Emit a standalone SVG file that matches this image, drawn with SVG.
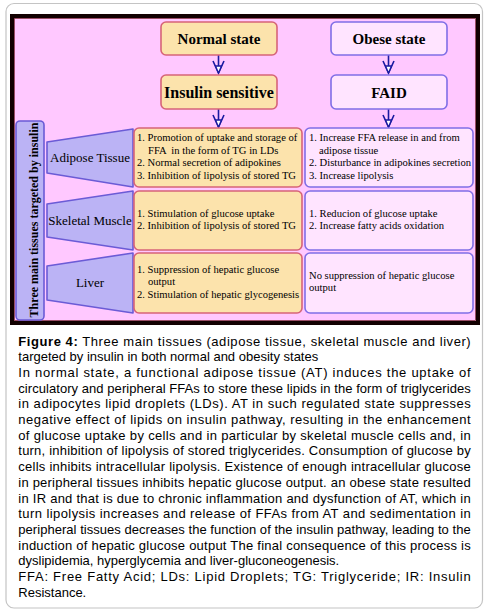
<svg xmlns="http://www.w3.org/2000/svg" xmlns:xlink="http://www.w3.org/1999/xlink" width="489" height="613" viewBox="0 0 489 613">
<style>
.nb{fill:#FCE3AC;stroke:#D66478;stroke-width:1.6}
.ob{fill:#FFE4FF;stroke:#806EE6;stroke-width:1.6}
.tz{fill:#BBB3F5;stroke:#6B5BD6;stroke-width:1.6;stroke-linejoin:round}
.ttl{font-family:"Liberation Serif","Times New Roman",serif;font-weight:bold;font-size:15px;fill:#000;text-anchor:middle}
.lbl{font-family:"Liberation Serif","Times New Roman",serif;font-size:13px;fill:#000;text-anchor:middle}
.li{font-family:"Liberation Serif","Times New Roman",serif;font-size:10.6px;fill:#000}
.cap{font-family:"Liberation Sans",Arial,sans-serif;font-size:13px;fill:#000}
.shaft{stroke:#1A1AA0;stroke-width:1.6;fill:none}
</style>
<defs>
<g id="ah">
<path d="M-5.5,-12 L0,0 L5.5,-12" fill="none" stroke="#1A1AA0" stroke-width="1.6"/>
<path d="M-3,-7 L3,-7 L0,0 Z" fill="#fff" stroke="#1A1AA0" stroke-width="1.3"/>
</g>
</defs>
<rect x="6" y="3.5" width="476.5" height="604.5" rx="8" fill="#fff" stroke="#C4C4C4" stroke-width="1.2"/>
<rect x="12" y="16" width="466" height="307" fill="#FFC8FF" stroke="#120000" stroke-width="4"/>
<rect x="14.5" y="18.5" width="461" height="302" fill="none" stroke="#803040" stroke-width="0.8"/>

<g id="connectors">
<line class="shaft" x1="218.5" y1="55" x2="218.5" y2="66"/>
<use xlink:href="#ah" x="218.5" y="73"/>
<line class="shaft" x1="388.5" y1="55" x2="388.5" y2="66"/>
<use xlink:href="#ah" x="388.5" y="73"/>
<line class="shaft" x1="218.5" y1="109" x2="218.5" y2="120"/>
<use xlink:href="#ah" x="218.5" y="127"/>
<line class="shaft" x1="388.5" y1="109" x2="388.5" y2="120"/>
<use xlink:href="#ah" x="388.5" y="127"/>
</g>

<g id="normal-state"><rect class="nb" x="161" y="22" width="116" height="33" rx="5"/><text class="ttl" x="219" y="44">Normal state</text></g>
<g id="obese-state"><rect class="ob" x="331" y="22" width="116" height="33" rx="5"/><text class="ttl" x="389" y="44">Obese state</text></g>
<g id="insulin-sensitive"><rect class="nb" x="161" y="75" width="116" height="34" rx="5"/><text class="ttl" x="219" y="98" style="font-size:16px">Insulin sensitive</text></g>
<g id="faid"><rect class="ob" x="331" y="75" width="116" height="34" rx="5"/><text class="ttl" x="389" y="98">FAID</text></g>

<g id="tissues-label"><rect x="16" y="121" width="28" height="199" rx="4" fill="#BBB3F5" stroke="#6B5BD6" stroke-width="1.6"/><text transform="translate(37.5,220) rotate(-90)" x="0" y="0" style="font-family:'Liberation Serif','Times New Roman',serif;font-weight:bold;font-size:12px;text-anchor:middle">Three main tissues targeted by insulin</text></g>

<g id="adipose-tissue"><path class="tz" d="M47,142 L133,129 L133,187 L47,173 Z"/><text class="lbl" x="90" y="162">Adipose Tissue</text></g>
<g id="skeletal-muscle"><path class="tz" d="M47,204 L133,191 L133,250 L47,237 Z"/><text class="lbl" x="90" y="225">Skeletal Muscle</text></g>
<g id="liver"><path class="tz" d="M47,266 L133,253 L133,313 L47,300 Z"/><text class="lbl" x="90" y="287">Liver</text></g>

<g id="adipose-normal"><rect class="nb" x="134" y="128" width="168" height="59" rx="5"/>
<text class="li" x="137" y="141">1. Promotion of uptake and storage of</text>
<text class="li" x="148" y="153.5" xml:space="preserve">FFA  in the form of TG in LDs</text>
<text class="li" x="137" y="166">2. Normal secretion of adipokines</text>
<text class="li" x="137" y="178.5">3. Inhibition of lipolysis of stored TG</text></g>
<g id="adipose-obese"><rect class="ob" x="305" y="128" width="168" height="59" rx="5"/>
<text class="li" x="309" y="141">1. Increase FFA release in and from</text>
<text class="li" x="319" y="153.5">adipose tissue</text>
<text class="li" x="309" y="166">2. Disturbance in adipokines secretion</text>
<text class="li" x="309" y="178.5">3. Increase lipolysis</text></g>

<g id="muscle-normal"><rect class="nb" x="134" y="191" width="168" height="59" rx="5"/>
<text class="li" x="137" y="216.5">1. Stimulation of glucose uptake</text>
<text class="li" x="137" y="229">2. Inhibition of lipolysis of stored TG</text></g>
<g id="muscle-obese"><rect class="ob" x="305" y="191" width="168" height="59" rx="5"/>
<text class="li" x="309" y="216.5">1. Reducion of glucose uptake</text>
<text class="li" x="309" y="229">2. Increase fatty acids oxidation</text></g>

<g id="liver-normal"><rect class="nb" x="134" y="253" width="168" height="60" rx="5"/>
<text class="li" x="137" y="273">1. Suppression of hepatic glucose</text>
<text class="li" x="148" y="285">output</text>
<text class="li" x="137" y="297.5">2. Stimulation of hepatic glycogenesis</text></g>
<g id="liver-obese"><rect class="ob" x="305" y="253" width="168" height="60" rx="5"/>
<text class="li" x="309" y="278.5">No suppression of hepatic glucose</text>
<text class="li" x="309" y="291">output</text></g>

<g id="caption">
<text class="cap" x="18.3" y="345.5" textLength="452.4" lengthAdjust="spacing"><tspan font-weight="bold">Figure 4:</tspan> Three main tissues (adipose tissue, skeletal muscle and liver)</text>
<text class="cap" x="18.3" y="361.2">targeted by insulin in both normal and obesity states</text>
<text class="cap" x="18.3" y="376.9" textLength="452.4" lengthAdjust="spacing">In normal state, a functional adipose tissue (AT) induces the uptake of</text>
<text class="cap" x="18.3" y="392.6" textLength="452.4" lengthAdjust="spacing">circulatory and peripheral FFAs to store these lipids in the form of triglycerides</text>
<text class="cap" x="18.3" y="408.3" textLength="452.4" lengthAdjust="spacing">in adipocytes lipid droplets (LDs). AT in such regulated state suppresses</text>
<text class="cap" x="18.3" y="424" textLength="452.4" lengthAdjust="spacing">negative effect of lipids on insulin pathway, resulting in the enhancement</text>
<text class="cap" x="18.3" y="439.7" textLength="452.4" lengthAdjust="spacing">of glucose uptake by cells and in particular by skeletal muscle cells and, in</text>
<text class="cap" x="18.3" y="455.4" textLength="452.4" lengthAdjust="spacing">turn, inhibition of lipolysis of stored triglycerides. Consumption of glucose by</text>
<text class="cap" x="18.3" y="471.1" textLength="452.4" lengthAdjust="spacing">cells inhibits intracellular lipolysis. Existence of enough intracellular glucose</text>
<text class="cap" x="18.3" y="486.8" textLength="452.4" lengthAdjust="spacing">in peripheral tissues inhibits hepatic glucose output. an obese state resulted</text>
<text class="cap" x="18.3" y="502.5" textLength="452.4" lengthAdjust="spacing">in IR and that is due to chronic inflammation and dysfunction of AT, which in</text>
<text class="cap" x="18.3" y="518.2" textLength="452.4" lengthAdjust="spacing">turn lipolysis increases and release of FFAs from AT and sedimentation in</text>
<text class="cap" x="18.3" y="533.9" textLength="452.4" lengthAdjust="spacing">peripheral tissues decreases the function of the insulin pathway, leading to the</text>
<text class="cap" x="18.3" y="549.6" textLength="452.4" lengthAdjust="spacing">induction of hepatic glucose output The final consequence of this process is</text>
<text class="cap" x="18.3" y="565.3">dyslipidemia, hyperglycemia and liver-gluconeogenesis.</text>
<text class="cap" x="18.3" y="581" textLength="452.4" lengthAdjust="spacing">FFA: Free Fatty Acid; LDs: Lipid Droplets; TG: Triglyceride; IR: Insulin</text>
<text class="cap" x="18.3" y="596.7">Resistance.</text>
</g>
</svg>
